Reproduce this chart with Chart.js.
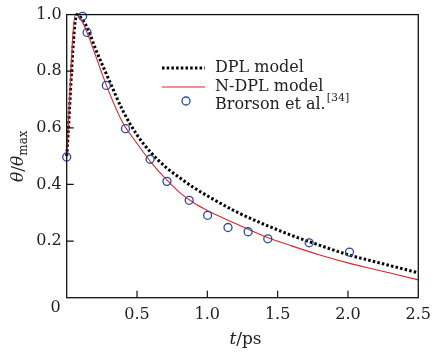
<!DOCTYPE html>
<html>
<head>
<meta charset="utf-8">
<script src="https://cdn.jsdelivr.net/npm/chart.js@4.4.1/dist/chart.umd.min.js"></script>
<style>
  body { margin: 0; background: #fff; }
  #wrap { width: 439px; height: 352px; }
</style>
</head>
<body>
<div id="wrap"><canvas id="c"></canvas></div>
<script>
// DPL model curve
const tDpl = [0, 0.072, 0.1, 0.15, 0.2, 0.3, 0.4, 0.5, 0.6, 0.7, 0.8, 0.9, 1.0, 1.2, 1.4, 1.6, 1.8, 2.0, 2.2, 2.5];
const yDpl = [0.5, 1.0, 0.99, 0.95, 0.885, 0.77, 0.66, 0.575, 0.512, 0.463, 0.425, 0.39, 0.36, 0.305, 0.26, 0.22, 0.185, 0.152, 0.126, 0.088];
// N-DPL model curve
const tNdpl = [0, 0.062, 0.1, 0.15, 0.2, 0.3, 0.4, 0.5, 0.6, 0.7, 0.8, 0.9, 1.0, 1.2, 1.4, 1.6, 1.8, 2.0, 2.2, 2.5];
const yNdpl = [0.5, 1.0, 0.985, 0.93, 0.862, 0.728, 0.617, 0.545, 0.478, 0.422, 0.373, 0.336, 0.308, 0.262, 0.218, 0.183, 0.151, 0.123, 0.099, 0.063];
// Brorson et al. measurements
const tExp = [0, 0.113, 0.145, 0.282, 0.418, 0.593, 0.713, 0.871, 1.002, 1.147, 1.29, 1.43, 1.724, 2.011];
const yExp = [0.497, 0.994, 0.937, 0.75, 0.597, 0.489, 0.411, 0.344, 0.291, 0.248, 0.233, 0.208, 0.194, 0.161];

const xTicks = [0, 0.5, 1.0, 1.5, 2.0, 2.5];
const yTicks = [0, 0.2, 0.4, 0.6, 0.8, 1.0];

const pts = (xs, ys) => xs.map((x, i) => ({ x: x, y: ys[i] }));

const FONT = '"DejaVu Serif", serif';
const RED = '#d7262e';
const BLUE = '#2b4a9a';

const decor = {
  id: 'decor',
  afterDraw(chart) {
    const ctx = chart.ctx;
    const a = chart.chartArea;
    const xs = chart.scales.x, ys = chart.scales.y;
    ctx.save();
    ctx.strokeStyle = '#111';
    ctx.lineWidth = 1.3;
    ctx.strokeRect(a.left, a.top, a.right - a.left, a.bottom - a.top);
    // inward ticks
    ctx.lineWidth = 1.2;
    ctx.beginPath();
    xTicks.slice(1, -1).forEach(v => {
      const px = xs.getPixelForValue(v);
      ctx.moveTo(px, a.bottom); ctx.lineTo(px, a.bottom - 7);
    });
    yTicks.slice(1, -1).forEach(v => {
      const py = ys.getPixelForValue(v);
      ctx.moveTo(a.left, py); ctx.lineTo(a.left + 7, py);
    });
    ctx.stroke();

    ctx.fillStyle = '#222';
    // shared origin label
    ctx.font = '16px ' + FONT;
    ctx.textAlign = 'center';
    ctx.textBaseline = 'middle';
    ctx.fillText('0', a.left - 11, a.bottom + 10);

    // x title: t/ps
    const cx = (a.left + a.right) / 2 + 3;
    ctx.textAlign = 'left';
    ctx.font = 'italic 17px ' + FONT;
    const wT = ctx.measureText('t').width;
    ctx.font = '17px ' + FONT;
    const wR = ctx.measureText('/ps').width;
    let x0 = cx - (wT + wR) / 2;
    ctx.font = 'italic 17px ' + FONT;
    ctx.fillText('t', x0, 340);
    ctx.font = '17px ' + FONT;
    ctx.fillText('/ps', x0 + wT, 340);

    // y title: θ/θmax
    ctx.save();
    ctx.translate(19, (a.top + a.bottom) / 2);
    ctx.rotate(-Math.PI / 2);
    ctx.font = 'italic 17px ' + FONT;
    const w1 = ctx.measureText('θ').width;
    ctx.font = '17px ' + FONT;
    const w2 = ctx.measureText('/').width;
    ctx.font = '12px ' + FONT;
    const w3 = ctx.measureText('max').width;
    let y0 = -(2 * w1 + w2 + w3) / 2;
    ctx.font = 'italic 17px ' + FONT;
    ctx.fillText('θ', y0, 0);
    ctx.font = '17px ' + FONT;
    ctx.fillText('/', y0 + w1, 0);
    ctx.font = 'italic 17px ' + FONT;
    ctx.fillText('θ', y0 + w1 + w2, 0);
    ctx.font = '12px ' + FONT;
    ctx.fillText('max', y0 + 2 * w1 + w2, 5);
    ctx.restore();

    // legend
    const lx0 = 162, lx1 = 205, tx = 215;
    const rows = [68, 87, 105];
    ctx.strokeStyle = '#000';
    ctx.lineWidth = 3;
    ctx.setLineDash([2.5, 2.2]);
    ctx.beginPath(); ctx.moveTo(lx0, rows[0]); ctx.lineTo(lx1, rows[0]); ctx.stroke();
    ctx.setLineDash([]);
    ctx.strokeStyle = RED;
    ctx.lineWidth = 1.1;
    ctx.beginPath(); ctx.moveTo(lx0, rows[1]); ctx.lineTo(lx1, rows[1]); ctx.stroke();
    ctx.strokeStyle = BLUE;
    ctx.lineWidth = 1.3;
    ctx.beginPath(); ctx.arc(186, rows[2] - 4, 4, 0, Math.PI * 2); ctx.stroke();

    ctx.fillStyle = '#222';
    ctx.font = '16px ' + FONT;
    ctx.textBaseline = 'middle';
    ctx.fillText(chart.data.datasets[0].label, tx, rows[0]);
    ctx.fillText(chart.data.datasets[1].label, tx, rows[1]);
    const lab = chart.data.datasets[2].label;
    ctx.fillText(lab, tx, rows[2]);
    const wl = ctx.measureText(lab).width;
    ctx.font = '11px ' + FONT;
    ctx.fillText('[34]', tx + wl + 1, rows[2] - 7);
    ctx.restore();
  }
};

new Chart(document.getElementById('c'), {
  type: 'scatter',
  data: {
    datasets: [
      {
        label: 'DPL model',
        type: 'line',
        data: pts(tDpl, yDpl),
        borderColor: '#000',
        borderWidth: 3,
        borderDash: [2.5, 2.2],
        pointRadius: 0,
        cubicInterpolationMode: 'monotone',
        clip: false,
        order: 3
      },
      {
        label: 'N-DPL model',
        type: 'line',
        data: pts(tNdpl, yNdpl),
        borderColor: RED,
        borderWidth: 1.1,
        pointRadius: 0,
        cubicInterpolationMode: 'monotone',
        clip: false,
        order: 2
      },
      {
        label: 'Brorson et al.',
        data: pts(tExp, yExp),
        pointStyle: 'circle',
        pointRadius: 4,
        borderColor: BLUE,
        borderWidth: 1.3,
        backgroundColor: 'rgba(0,0,0,0)',
        clip: false,
        order: 1
      }
    ]
  },
  options: {
    responsive: true,
    maintainAspectRatio: false,
    animation: false,
    layout: { padding: { top: 14, right: 18, left: 0, bottom: 0 } },
    plugins: { legend: { display: false }, tooltip: { enabled: false } },
    scales: {
      x: {
        type: 'linear',
        min: 0, max: 2.5,
        afterBuildTicks: s => { s.ticks = xTicks.map(v => ({ value: v })); },
        afterFit: s => { s.height = 54.3; },
        grid: { display: false, drawTicks: false },
        border: { display: false },
        ticks: {
          padding: 8,
          color: '#222',
          font: { family: FONT, size: 16 },
          maxRotation: 0,
          callback: v => v === 0 ? '' : v.toFixed(1)
        }
      },
      y: {
        min: 0, max: 1,
        afterBuildTicks: s => { s.ticks = yTicks.map(v => ({ value: v })); },
        afterFit: s => { s.width = 66.7; },
        grid: { display: false, drawTicks: false },
        border: { display: false },
        ticks: {
          padding: 5,
          color: '#222',
          font: { family: FONT, size: 16 },
          callback: v => v === 0 ? '' : v.toFixed(1)
        }
      }
    }
  },
  plugins: [decor]
});
</script>
</body>
</html>
